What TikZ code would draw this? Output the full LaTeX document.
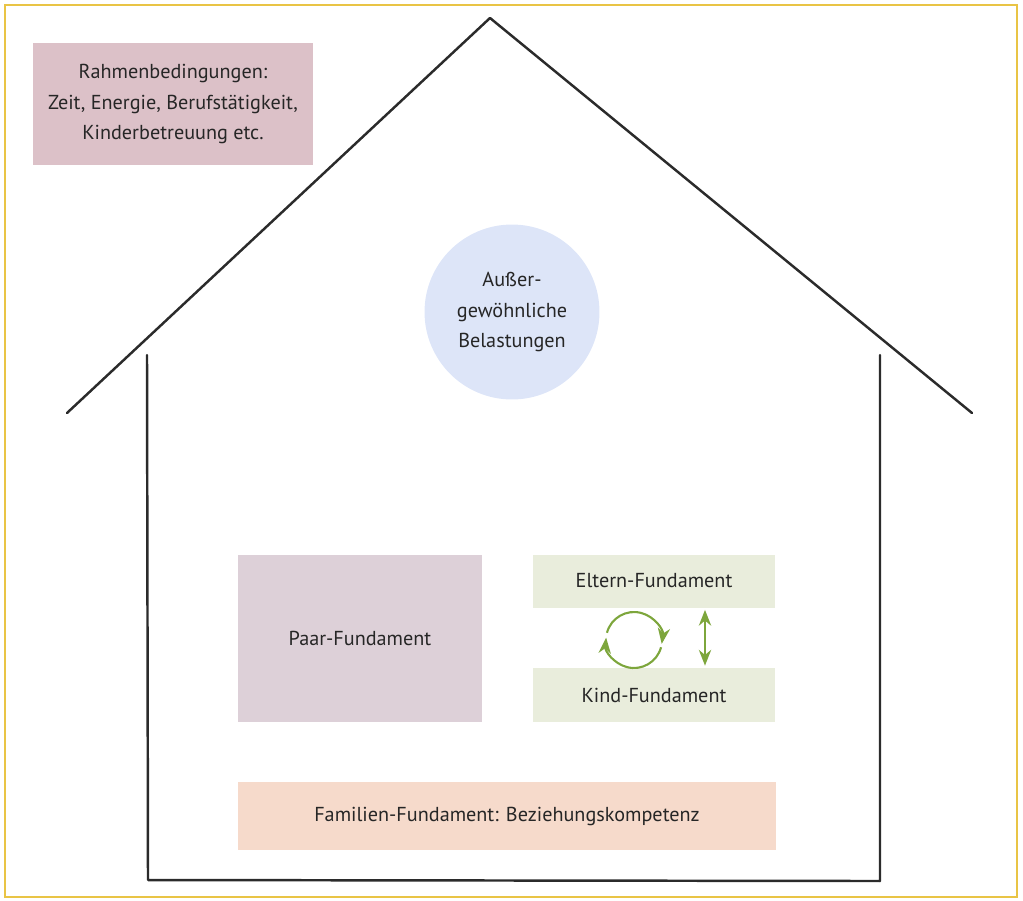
\documentclass[tikz,border=0pt]{standalone}
\usepackage{fontspec}
\setmainfont{PT Sans}
\usetikzlibrary{arrows.meta}

\definecolor{gold}{HTML}{E9C445}
\definecolor{strich}{HTML}{2B2B2B}
\definecolor{rahmenrot}{HTML}{DCC1C8}
\definecolor{blau}{HTML}{DDE5F8}
\definecolor{mauve}{HTML}{DDD0D8}
\definecolor{hellgruen}{HTML}{E9EDDC}
\definecolor{pfirsich}{HTML}{F6DACB}
\definecolor{gruen}{HTML}{7DA63C}

\begin{document}
\begin{tikzpicture}[x=0.02cm, y=-0.02cm,
        feld/.style={fill=#1, inner sep=0pt, text=black!85, align=center,
            font=\fontsize{11.5}{17.5}\selectfont},
        haus/.style={draw=strich, line width=1.4pt, line cap=round, line join=round},
        pfeil/.style={draw=gruen, line width=1.2pt, -{Stealth[length=9pt, width=7pt]}}]
    \useasboundingbox (0,0) rectangle (1023,900);
    \draw[gold, line width=1.5pt] (5,5) rectangle (1017,897);

    % Haus
    \draw[haus] (67,413) -- (490,18) -- (972,413);
    \draw[haus] (147,355) -- (148,880) -- (880,881) -- (880,355);

    \node[feld=rahmenrot, minimum width=5.6cm, minimum height=2.44cm] (rahmen) at (173,104)
        {Rahmenbedingungen:\\Zeit, Energie, Berufstätigkeit,\\Kinderbetreuung etc.};
    \node[feld=blau, circle, minimum size=3.5cm] (belast) at (512,312)
        {Außer-\\gewöhnliche\\Belastungen};

    \node[feld=mauve, minimum width=4.88cm, minimum height=3.34cm] (paar) at (360,638)
        {Paar-Fundament};
    \node[feld=hellgruen, minimum width=4.86cm, minimum height=1.06cm] (eltern) at (654,581)
        {Eltern-Fundament};
    \node[feld=hellgruen, minimum width=4.86cm, minimum height=1.08cm] (kind) at (654,695)
        {Kind-Fundament};
    \node[feld=pfirsich, minimum width=10.76cm, minimum height=1.36cm] (familie) at (507,816)
        {Familien-Fundament: Beziehungskompetenz};

    % Wechselwirkung
    \coordinate (kreis) at (634,640);
    \draw[pfeil] (kreis) ++(165:0.56cm) arc[start angle=165, end angle=-8, radius=0.56cm];
    \draw[pfeil] (kreis) ++(-15:0.56cm) arc[start angle=-15, end angle=-185, radius=0.56cm];
    \draw[pfeil, {Stealth[length=9pt, width=7pt]}-{Stealth[length=9pt, width=7pt]}]
        ([xshift=1.02cm, yshift=-0.04cm]eltern.south) -- ([xshift=1.02cm, yshift=0.04cm]kind.north);
\end{tikzpicture}
\end{document}
